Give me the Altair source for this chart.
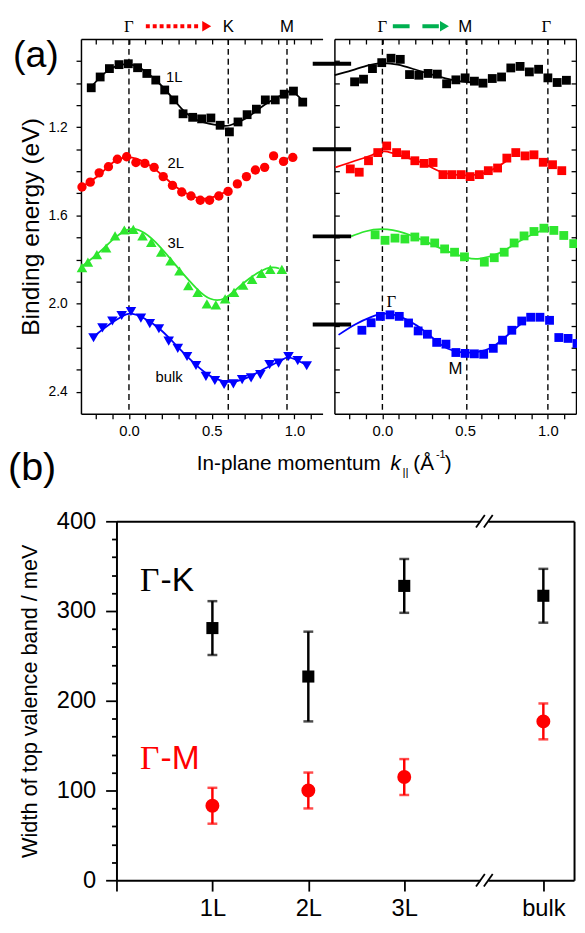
import json
import altair as alt
import pandas as pd

FONT = "Liberation Sans"
SERIF = "Liberation Serif"

# ================= Panel (a): shared =================
series = ["1L", "2L", "3L", "bulk"]
series_colors = ["#000000", "#ff0000", "#2ee62e", "#0000ff"]
shapes_left = ["square", "circle", "triangle-up", "triangle-down"]
shapes_right = ["square", "square", "square", "square"]
sizes_left = [80, 90, 115, 115]
sizes_right = [80, 80, 80, 80]
k_domain = [-0.29, 1.17]
E_domain = [0.8, 2.5]
k_ticks = [-0.2, -0.1, 0.0, 0.1, 0.2, 0.3, 0.4, 0.5, 0.6, 0.7, 0.8, 0.9, 1.0, 1.1]
k_tick_labels = [0.0, 0.5, 1.0]
E_ticks = [0.9, 1.0, 1.1, 1.2, 1.3, 1.4, 1.5, 1.6, 1.7, 1.8, 1.9, 2.0, 2.1, 2.2, 2.3, 2.4]
E_tick_labels = [1.2, 1.6, 2.0, 2.4]

# ---- left half: Gamma -> K -> M, measured points ----
kL_1L = [-0.228, -0.174, -0.118, -0.06, -0.004, 0.052, 0.108, 0.162, 0.216, 0.271, 0.327, 0.385,
         0.439, 0.495, 0.551, 0.607, 0.659, 0.714, 0.770, 0.824, 0.884, 0.938, 0.994, 1.050]
EL_1L = [1.021, 0.972, 0.934, 0.916, 0.912, 0.930, 0.956, 0.986, 1.031, 1.076, 1.139, 1.155,
         1.162, 1.158, 1.191, 1.221, 1.176, 1.143, 1.118, 1.076, 1.076, 1.050, 1.036, 1.086]
kL_2L = [-0.284, -0.234, -0.18, -0.124, -0.07, -0.014, 0.042, 0.096, 0.152, 0.207, 0.263, 0.319,
         0.375, 0.431, 0.487, 0.543, 0.599, 0.655, 0.710, 0.764, 0.820, 0.874, 0.934, 0.99]
EL_2L = [1.471, 1.449, 1.407, 1.379, 1.345, 1.334, 1.36, 1.364, 1.382, 1.424, 1.464, 1.494,
         1.512, 1.531, 1.531, 1.512, 1.491, 1.457, 1.424, 1.394, 1.382, 1.330, 1.355, 1.337]
kL_3L = [-0.284, -0.248, -0.194, -0.138, -0.084, -0.028, 0.026, 0.082, 0.135, 0.195, 0.251, 0.305,
         0.359, 0.415, 0.471, 0.525, 0.581, 0.635, 0.690, 0.744, 0.8, 0.854, 0.924]
EL_3L = [1.837, 1.812, 1.778, 1.748, 1.693, 1.666, 1.663, 1.693, 1.722, 1.767, 1.807, 1.852,
         1.919, 1.949, 2.001, 2.006, 1.979, 1.949, 1.917, 1.890, 1.863, 1.845, 1.845]
kL_bk = [-0.214, -0.160, -0.1, -0.044, 0.012, 0.072, 0.126, 0.181, 0.24, 0.295, 0.351, 0.405,
         0.465, 0.519, 0.575, 0.631, 0.684, 0.738, 0.794, 0.850, 0.904, 0.964, 1.02, 1.074]
EL_bk = [2.155, 2.110, 2.079, 2.054, 2.036, 2.066, 2.091, 2.114, 2.170, 2.203, 2.240, 2.281,
         2.330, 2.349, 2.367, 2.364, 2.345, 2.337, 2.322, 2.277, 2.270, 2.240, 2.259, 2.282]

# ---- left half: fitted curves ----
cL_1L_k = [-0.228, -0.125, -0.005, 0.104, 0.213, 0.325, 0.432, 0.551, 0.611, 0.711, 0.820, 0.933, 0.989, 1.045]
cL_1L_E = [1.017, 0.942, 0.914, 0.949, 1.024, 1.121, 1.173, 1.192, 1.191, 1.158, 1.098, 1.05, 1.039, 1.076]
cL_2L_k = [-0.287, -0.184, -0.095, -0.005, 0.094, 0.203, 0.313, 0.432, 0.512, 0.595]
cL_2L_E = [1.471, 1.419, 1.359, 1.337, 1.359, 1.419, 1.486, 1.523, 1.516, 1.491]
cL_3L_k = [-0.294, -0.184, -0.085, 0.005, 0.094, 0.193, 0.303, 0.412, 0.492, 0.572, 0.651, 0.751, 0.850, 0.909]
cL_3L_E = [1.837, 1.770, 1.702, 1.662, 1.680, 1.747, 1.844, 1.934, 1.978, 1.978, 1.934, 1.874, 1.837, 1.841]
cL_bk_k = [-0.214, -0.125, -0.045, 0.011, 0.094, 0.193, 0.293, 0.392, 0.492, 0.591, 0.691, 0.810, 0.909, 0.959, 1.009, 1.069]
cL_bk_E = [2.150, 2.098, 2.060, 2.046, 2.068, 2.120, 2.195, 2.269, 2.329, 2.354, 2.344, 2.299, 2.262, 2.244, 2.255, 2.277]

symL_k = [0.0, 0.6, 0.955]
symL_text = ["Γ", "K", "M"]
labL_text = ["1L", "2L", "3L", "bulk"]
labL_k = [0.273, 0.283, 0.283, 0.243]
labL_E = [0.972, 1.364, 1.725, 2.333]
arrowL_k = [0.102, 0.43]
arrowL_head = [0.47]

# ---- right half: Gamma -> M -> Gamma, measured points ----
kR_1L = [-0.168, -0.114, -0.06, -0.004, 0.052, 0.108, 0.164, 0.22, 0.276, 0.332, 0.388, 0.444,
         0.50, 0.556, 0.608, 0.664, 0.720, 0.776, 0.832, 0.888, 0.944, 1.0, 1.056, 1.112]
ER_1L = [0.994, 0.982, 0.934, 0.907, 0.887, 0.892, 0.961, 0.964, 0.956, 0.959, 1.003, 0.985,
         0.976, 0.991, 1.0, 0.979, 0.972, 0.931, 0.924, 0.949, 0.937, 0.976, 0.997, 0.987]
kR_2L = [-0.194, -0.14, -0.084, -0.028, 0.026, 0.086, 0.14, 0.196, 0.252, 0.306, 0.366, 0.42,
         0.476, 0.53, 0.586, 0.64, 0.696, 0.752, 0.806, 0.862, 0.916, 0.972, 1.028, 1.084]
ER_2L = [1.389, 1.404, 1.352, 1.315, 1.285, 1.315, 1.325, 1.352, 1.364, 1.36, 1.415, 1.415,
         1.415, 1.424, 1.415, 1.397, 1.385, 1.340, 1.315, 1.330, 1.325, 1.359, 1.370, 1.397]
kR_3L = [-0.044, 0.016, 0.076, 0.136, 0.196, 0.256, 0.316, 0.376, 0.436, 0.496, 0.616, 0.676,
         0.736, 0.796, 0.856, 0.916, 0.976, 1.036, 1.096, 1.156]
ER_3L = [1.688, 1.713, 1.703, 1.707, 1.698, 1.715, 1.725, 1.752, 1.767, 1.788, 1.812, 1.792,
         1.767, 1.725, 1.693, 1.673, 1.658, 1.668, 1.691, 1.728]
kR_bk = [-0.124, -0.068, -0.012, 0.046, 0.102, 0.158, 0.216, 0.272, 0.328, 0.384, 0.444, 0.50,
         0.556, 0.612, 0.670, 0.726, 0.782, 0.842, 0.896, 0.952, 1.01, 1.066, 1.122, 1.176]
ER_bk = [2.121, 2.087, 2.058, 2.051, 2.058, 2.088, 2.124, 2.139, 2.176, 2.184, 2.222, 2.226,
         2.228, 2.230, 2.203, 2.166, 2.121, 2.079, 2.062, 2.062, 2.076, 2.154, 2.158, 2.181]

# ---- right half: fitted curves ----
cR_1L_k = [-0.288, -0.185, -0.086, -0.002, 0.093, 0.192, 0.312, 0.431, 0.55]
cR_1L_E = [0.964, 0.942, 0.919, 0.909, 0.916, 0.937, 0.964, 0.987, 0.997]
cR_2L_k = [-0.284, -0.165, -0.066, 0.014, 0.133, 0.252, 0.352, 0.471, 0.59, 0.689, 0.768]
cR_2L_E = [1.382, 1.352, 1.327, 1.31, 1.335, 1.365, 1.402, 1.417, 1.413, 1.383, 1.343]
cR_3L_k = [-0.189, -0.105, -0.002, 0.133, 0.272, 0.391, 0.51, 0.59, 0.709, 0.828, 0.948, 0.997]
cR_3L_E = [1.695, 1.673, 1.662, 1.68, 1.722, 1.762, 1.792, 1.796, 1.77, 1.717, 1.673, 1.662]
cR_bk_k = [-0.265, -0.165, -0.066, 0.033, 0.153, 0.272, 0.371, 0.471, 0.57, 0.669, 0.769, 0.848]
cR_bk_E = [2.142, 2.095, 2.06, 2.046, 2.075, 2.135, 2.195, 2.22, 2.22, 2.195, 2.135, 2.086]

symR_k = [0.0, 0.51, 1.0]
symR_top_serif_k = [0.0, 0.99]
symR_top_sans_k = [0.5]
offset_bar_k = [-0.421, -0.189]
offset_bar_E = [0.912, 1.30, 1.695, 2.095]
arrowR_k = [0.063, 0.341]
arrowR_head = [0.375]
innerR_text = ["Γ", "M"]
innerR_k = [0.054, 0.441]
innerR_E = [1.993, 2.299]

# ================= Panel (b) =================
b_x_domain = [0, 4.77]
b_y_domain = [0, 400]
b_x_ticks = [0, 1, 2, 3, 4.45]
b_cat_pos = [1, 2, 3, 4.45]
b_cat_labels = ["1L", "2L", "3L", "bulk"]
b_y_major = [0, 100, 200, 300, 400]
b_y_minor = [20, 40, 60, 80, 120, 140, 160, 180, 220, 240, 260, 280, 320, 340, 360, 380]
GK_val = [281, 227, 328, 317]
GK_err = [30, 50, 30, 30]
GM_val = [83, 100, 115, 177]
GM_err = [20, 20, 20, 20]
b_series = ["Γ-K", "Γ-M"]
b_colors = ["#000000", "#ff0000"]
b_shapes = ["square", "circle"]
b_sizes = [150, 200]
b_break_pos = [3.794, 3.876]
b_break_y = [0, 400]
ann_x = [0.245, 0.46, 0.245, 0.46]
ann_y = [322, 322, 124, 124]
ann_t = ["Γ", "-K", "Γ", "-M"]

# ================= layout (pixels inside the plot area) =================
W, H = 502, 853
xL = alt.Scale(domain=k_domain, range=[0, 245], nice=False, zero=False)
xR = alt.Scale(domain=k_domain, range=[257, 502], nice=False, zero=False)
yA = alt.Scale(domain=E_domain, range=[0, 380], nice=False, zero=False)
xB = alt.Scale(domain=b_x_domain, range=[36, 500], nice=False, zero=False)
yB = alt.Scale(domain=b_y_domain, range=[853, 489], nice=False, zero=False)
A_BOTTOM_OFF = 380 - H
B_TOP_OFF = -489


def frame(groups):
    rows = []
    for name, ks, es in groups:
        for a, b in zip(ks, es):
            rows.append({"k": a, "E": b, "s": name})
    return pd.DataFrame(rows)


def txt(text, px, py, size, font=FONT, color="black", align="left", baseline="alphabetic", style="normal"):
    return alt.Chart(pd.DataFrame({"t": [text]})).mark_text(
        font=font, fontSize=size, color=color, align=align, baseline=baseline, fontStyle=style
    ).encode(text="t:N", x=alt.value(px), y=alt.value(py))


color_enc = alt.Color("s:N", scale=alt.Scale(domain=series, range=series_colors), legend=None)
xlab_expr = f"indexof({json.dumps(k_tick_labels)}, datum.value) >= 0 ? format(datum.value, '.1f') : ''"
ylab_expr = f"indexof({json.dumps(E_tick_labels)}, datum.value) >= 0 ? format(datum.value, '.1f') : ''"

bottom_k_axis = alt.Axis(orient="bottom", offset=A_BOTTOM_OFF, values=k_ticks, labelExpr=xlab_expr,
                         tickSize=5, tickWidth=1.3, labelFontSize=15, labelPadding=5, labelOverlap=False,
                         labelFlush=False, domain=True, domainWidth=1.5, title=None)
top_tick_axis = alt.Axis(orient="top", offset=-5, values=k_ticks, tickSize=5, tickWidth=1.3,
                         labels=False, domain=False, title=None)
top_domain_axis = alt.Axis(orient="top", values=k_ticks, ticks=False, labels=False, domain=True,
                           domainWidth=1.5, title=None)


def carrier(xs, ys, k0, e0, xaxis=None, yaxis=None):
    return alt.Chart(pd.DataFrame({"k": [k0], "E": [e0]})).mark_point(opacity=0).encode(
        x=alt.X("k:Q", scale=xs, axis=xaxis), y=alt.Y("E:Q", scale=ys, axis=yaxis))


def curves_layer(xs, groups, xaxis, yaxis):
    return alt.Chart(frame(groups)).mark_line(interpolate="natural", strokeWidth=1.8).encode(
        x=alt.X("k:Q", scale=xs, axis=xaxis),
        y=alt.Y("E:Q", scale=yA, axis=yaxis),
        color=color_enc,
    )


def points_layers(xs, groups, shapes, sizes, xaxis, yaxis):
    out = []
    for i, (name, ks, es) in enumerate(groups):
        out.append(alt.Chart(frame([(name, ks, es)])).mark_point(
            filled=True, opacity=1, shape=shapes[i], size=sizes[i]).encode(
            x=alt.X("k:Q", scale=xs, axis=xaxis if i == 0 else None),
            y=alt.Y("E:Q", scale=yA, axis=yaxis if i == 0 else None),
            color=color_enc,
        ))
    return out


def sym_top(xs, ks, texts, font):
    return alt.Chart(pd.DataFrame({"k": ks, "t": texts})).mark_text(
        font=font, fontSize=17, align="center", baseline="alphabetic", color="black"
    ).encode(x=alt.X("k:Q", scale=xs, axis=None), y=alt.value(-7), text="t:N")


def arrow(xs, ks, head, color, dash):
    line = alt.Chart(pd.DataFrame({"k1": [ks[0]], "k2": [ks[1]]})).mark_rule(
        color=color, strokeWidth=4, strokeDash=dash
    ).encode(x=alt.X("k1:Q", scale=xs, axis=None), x2="k2:Q", y=alt.value(-13))
    tip = alt.Chart(pd.DataFrame({"k": head})).mark_point(
        shape="triangle-right", filled=True, opacity=1, size=110, color=color
    ).encode(x=alt.X("k:Q", scale=xs, axis=None), y=alt.value(-13))
    return [line, tip]


def dashed_rules(xs, ks, xaxis):
    df = pd.DataFrame({"k": ks, "e1": [E_domain[0]] * len(ks), "e2": [E_domain[1]] * len(ks)})
    return alt.Chart(df).mark_rule(color="black", strokeWidth=1.4, strokeDash=[6, 4]).encode(
        x=alt.X("k:Q", scale=xs, axis=xaxis), y=alt.Y("e1:Q", scale=yA, axis=None), y2="e2:Q")


def text_layer(xs, ks, es, texts, font, size):
    return alt.Chart(pd.DataFrame({"k": ks, "E": es, "t": texts})).mark_text(
        font=font, fontSize=size, color="black", align="center", baseline="middle"
    ).encode(x=alt.X("k:Q", scale=xs, axis=None), y=alt.Y("E:Q", scale=yA, axis=None), text="t:N")


# ---------- left (a) panel ----------
left_groups_pts = [("1L", kL_1L, EL_1L), ("2L", kL_2L, EL_2L), ("3L", kL_3L, EL_3L), ("bulk", kL_bk, EL_bk)]
left_groups_cur = [("1L", cL_1L_k, cL_1L_E), ("2L", cL_2L_k, cL_2L_E), ("3L", cL_3L_k, cL_3L_E), ("bulk", cL_bk_k, cL_bk_E)]

left_yaxis = alt.Axis(orient="left", values=E_ticks, labelExpr=ylab_expr, tickSize=5, tickWidth=1.3,
                      labelFontSize=14, labelPadding=9, labelOverlap=False, labelFlush=False,
                      domain=True, domainWidth=1.5, title="Binding energy (eV)", titleFontSize=25,
                      titleFontWeight="normal", titlePadding=5)

left = alt.layer(
    dashed_rules(xL, symL_k, top_domain_axis),
    curves_layer(xL, left_groups_cur, top_tick_axis, None),
    *points_layers(xL, left_groups_pts, shapes_left, sizes_left, bottom_k_axis, left_yaxis),
    text_layer(xL, labL_k, labL_E, labL_text, FONT, 15),
    sym_top(xL, [symL_k[0]], [symL_text[0]], SERIF),
    sym_top(xL, symL_k[1:], symL_text[1:], FONT),
    *arrow(xL, arrowL_k, arrowL_head, "#ff0000", [4, 3]),
).resolve_axis(x="independent", y="independent")

# ---------- right (a) panel ----------
right_groups_pts = [("1L", kR_1L, ER_1L), ("2L", kR_2L, ER_2L), ("3L", kR_3L, ER_3L), ("bulk", kR_bk, ER_bk)]
right_groups_cur = [("1L", cR_1L_k, cR_1L_E), ("2L", cR_2L_k, cR_2L_E), ("3L", cR_3L_k, cR_3L_E), ("bulk", cR_bk_k, cR_bk_E)]

in_left_ticks = alt.Axis(orient="left", offset=-262, values=E_ticks, tickSize=5, tickWidth=1.3, labels=False,
                         domain=False, title=None)
left_domain = alt.Axis(orient="left", offset=-257, values=E_ticks, ticks=False, labels=False,
                       domain=True, domainWidth=1.5, title=None)
in_right_ticks = alt.Axis(orient="right", offset=-5, values=E_ticks, tickSize=5, tickWidth=1.3, labels=False,
                          domain=False, title=None)
right_domain = alt.Axis(orient="right", values=E_ticks, ticks=False, labels=False,
                        domain=True, domainWidth=1.5, title=None)

bars = alt.Chart(pd.DataFrame({"k1": [offset_bar_k[0]] * len(offset_bar_E),
                               "k2": [offset_bar_k[1]] * len(offset_bar_E),
                               "E": offset_bar_E})).mark_rule(color="black", strokeWidth=4).encode(
    x=alt.X("k1:Q", scale=xR, axis=None), x2="k2:Q", y=alt.Y("E:Q", scale=yA, axis=None))

right = alt.layer(
    dashed_rules(xR, symR_k, top_domain_axis),
    curves_layer(xR, right_groups_cur, top_tick_axis, in_right_ticks),
    *points_layers(xR, right_groups_pts, shapes_right, sizes_right, bottom_k_axis, in_left_ticks),
    carrier(xR, yA, kR_1L[0], ER_1L[0], None, left_domain),
    carrier(xR, yA, kR_1L[0], ER_1L[0], None, right_domain),
    bars,
    text_layer(xR, innerR_k[:1], innerR_E[:1], innerR_text[:1], SERIF, 17),
    text_layer(xR, innerR_k[1:], innerR_E[1:], innerR_text[1:], FONT, 17),
    sym_top(xR, symR_top_serif_k, ["Γ", "Γ"], SERIF),
    sym_top(xR, symR_top_sans_k, ["M"], FONT),
    *arrow(xR, arrowR_k, arrowR_head, "#00b050", [17, 13]),
).resolve_axis(x="independent", y="independent")

# ---------- panel (b) ----------
b_color = alt.Color("s:N", scale=alt.Scale(domain=b_series, range=b_colors), legend=None)

rows = []
for name, vals, errs in [(b_series[0], GK_val, GK_err), (b_series[1], GM_val, GM_err)]:
    for p, v, e in zip(b_cat_pos, vals, errs):
        rows.append({"pos": p, "val": v, "lo": v - e, "hi": v + e, "s": name})
dfb = pd.DataFrame(rows)
caps = pd.concat([dfb.assign(cap=dfb["lo"]), dfb.assign(cap=dfb["hi"])], ignore_index=True)

bx_expr = " : ".join(f"datum.value == {p} ? '{l}'" for p, l in zip(b_cat_pos, b_cat_labels)) + " : ''"

b_xaxis = alt.Axis(orient="bottom", values=b_x_ticks, labelExpr=bx_expr, tickSize=11, tickWidth=1.8,
                   labelFontSize=24, labelPadding=6, labelOverlap=False, labelFlush=False,
                   domain=True, domainWidth=2, title=None)
b_yaxis = alt.Axis(orient="left", offset=-36, values=b_y_major, tickSize=11, tickWidth=1.8, labelFontSize=24,
                   labelPadding=10, labelOverlap=False, labelFlush=False, domain=True, domainWidth=2,
                   title="Width of top valence band / meV", titleFontSize=22, titleFontWeight="normal",
                   titlePadding=15)
b_yaxis_minor = alt.Axis(orient="left", offset=-36, values=b_y_minor, tickSize=5, tickWidth=1.8, labels=False,
                         domain=False, title=None)
b_top_domain = alt.Axis(orient="top", offset=B_TOP_OFF, values=b_x_ticks, ticks=False, labels=False,
                        domain=True, domainWidth=2, title=None)
b_right_domain = alt.Axis(orient="right", offset=-2, values=b_y_major, ticks=False, labels=False,
                          domain=True, domainWidth=2, title=None)

b_rules = alt.Chart(dfb).mark_rule(strokeWidth=2.5).encode(
    x=alt.X("pos:Q", scale=xB, axis=None),
    y=alt.Y("lo:Q", scale=yB, axis=b_yaxis_minor), y2="hi:Q", color=b_color)
b_caps = alt.Chart(caps).mark_tick(orient="horizontal", size=10, thickness=2.5).encode(
    x=alt.X("pos:Q", scale=xB, axis=None), y=alt.Y("cap:Q", scale=yB, axis=None), color=b_color)
b_pts = []
for i, name in enumerate(b_series):
    b_pts.append(alt.Chart(dfb[dfb["s"] == name]).mark_point(
        filled=True, opacity=1, shape=b_shapes[i], size=b_sizes[i]).encode(
        x=alt.X("pos:Q", scale=xB, axis=b_xaxis if i == 0 else None),
        y=alt.Y("val:Q", scale=yB, axis=b_yaxis if i == 0 else None),
        color=b_color,
    ))
b_frame = alt.Chart(pd.DataFrame({"pos": [b_cat_pos[0]], "val": [GK_val[0]]})).mark_point(opacity=0).encode(
    x=alt.X("pos:Q", scale=xB, axis=b_top_domain), y=alt.Y("val:Q", scale=yB, axis=b_right_domain))

brk_gap = pd.DataFrame({"x1": [b_break_pos[0]] * 2, "x2": [b_break_pos[1]] * 2, "y": b_break_y})
b_gap = alt.Chart(brk_gap).mark_rule(color="white", strokeWidth=5).encode(
    x=alt.X("x1:Q", scale=xB, axis=None), x2="x2:Q", y=alt.Y("y:Q", scale=yB, axis=None))
slash_rows = []
for yb in b_break_y:
    for bp in b_break_pos:
        slash_rows.append({"x1": bp - 0.046, "x2": bp + 0.046, "y1": yb - 7, "y2": yb + 7})
b_slash = alt.Chart(pd.DataFrame(slash_rows)).mark_rule(color="black", strokeWidth=1.8).encode(
    x=alt.X("x1:Q", scale=xB, axis=None), x2="x2:Q",
    y=alt.Y("y1:Q", scale=yB, axis=None), y2="y2:Q")


def ann(i, font, color):
    return alt.Chart(pd.DataFrame({"x": [ann_x[i]], "y": [ann_y[i]], "t": [ann_t[i]]})).mark_text(
        font=font, fontSize=34, color=color, align="left", baseline="alphabetic").encode(
        x=alt.X("x:Q", scale=xB, axis=None), y=alt.Y("y:Q", scale=yB, axis=None), text="t:N")


panel_b = alt.layer(
    b_frame, b_gap, b_slash, b_rules, b_caps, *b_pts,
    ann(0, SERIF, "black"), ann(1, FONT, "black"), ann(2, SERIF, "#ff0000"), ann(3, FONT, "#ff0000"),
).resolve_axis(x="independent", y="independent")

chart = alt.layer(
    left, right, panel_b,
    txt("(a)", -69, 17, 38, baseline="middle"),
    txt("(b)", -74, 435, 40, baseline="middle"),
    txt("In-plane momentum", 304, 437, 21, align="right"),
    txt("k", 314, 437, 21, style="italic"),
    txt("||", 326, 443, 12),
    txt("(Å", 337, 437, 21),
    txt("-1", 360, 425, 11),
    txt(")", 369, 437, 21),
).resolve_scale(x="independent", y="independent").properties(
    width=W, height=H,
    autosize=alt.AutoSizeParams(type="none"),
    padding={"left": 74, "top": 25, "right": 1, "bottom": 47},
).configure_view(stroke="transparent").configure_axis(
    labelFont=FONT, titleFont=FONT, labelColor="black", titleColor="black",
    tickColor="black", domainColor="black", grid=False
)

chart.save("out.html", embed_options={"renderer": "svg", "actions": False})
